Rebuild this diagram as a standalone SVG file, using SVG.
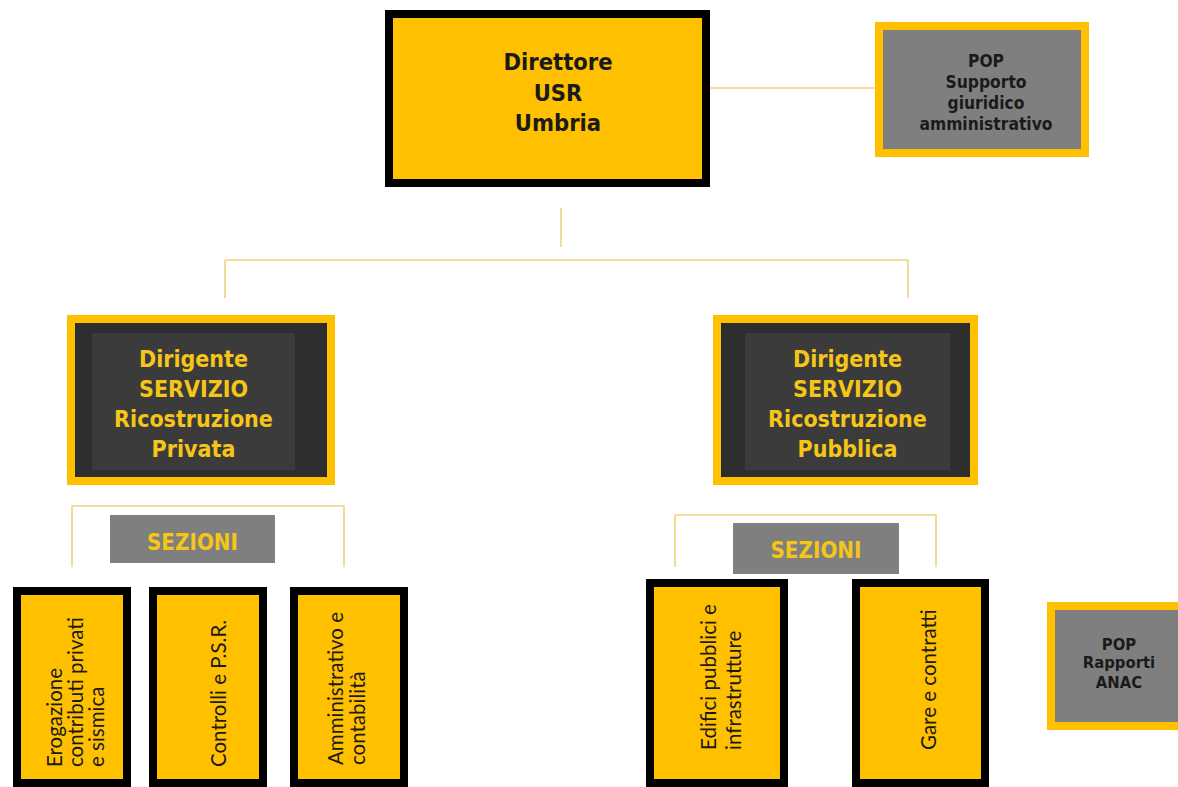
<svg xmlns="http://www.w3.org/2000/svg" width="1178" height="787" viewBox="0 0 1178 787">
  <style>
    .conn { stroke: #EFD37E; stroke-width: 1.6; fill: none; }
    .boxY { fill: #FFC000; stroke: #000000; stroke-width: 8; }
    .boxG { fill: #7F7F7F; stroke: #FFC000; stroke-width: 8; }
    .boxD { fill: #2E2E2E; stroke: #FFC000; stroke-width: 8; }
    .inD { fill: #3B3B3B; }
    .sez { fill: #7F7F7F; }
    .tH { font-family: "DejaVu Sans Condensed", "DejaVu Sans", sans-serif; font-stretch: condensed; font-weight: bold; text-anchor: middle; }
    .tDir { font-size: 23.5px; fill: #1A1A1A; }
    .tPop { font-size: 17.3px; fill: #1A1A1A; }
    .tPop2 { font-size: 16.5px; fill: #1A1A1A; }
    .tDg { font-size: 23px; fill: #F5C518; }
    .tSez { font-size: 22.2px; fill: #F5C518; }
    .tV { font-family: Lato, "Liberation Sans", sans-serif; font-size: 20.5px; fill: #1A1A1A; text-anchor: start; }
  </style>
  <rect width="1178" height="787" fill="#FFFFFF"/>

  <g id="connectors">
    <line class="conn" x1="710" y1="88" x2="876" y2="88"/>
    <line class="conn" x1="561" y1="208" x2="561" y2="247"/>
    <line class="conn" x1="225" y1="260" x2="908" y2="260"/>
    <line class="conn" x1="225" y1="260" x2="225" y2="298"/>
    <line class="conn" x1="908" y1="260" x2="908" y2="298"/>
    <polyline class="conn" points="72,567 72,506 344,506 344,567"/>
    <polyline class="conn" points="675,567 675,515 936,515 936,567"/>
  </g>

  <g id="direttore">
    <rect class="boxY" x="389" y="14" width="317" height="169"/>
    <text class="tH tDir" x="558" y="70">Direttore</text>
    <text class="tH tDir" x="558" y="101">USR</text>
    <text class="tH tDir" x="558" y="131">Umbria</text>
  </g>

  <g id="pop-supporto">
    <rect class="boxG" x="879" y="26" width="206" height="127"/>
    <text class="tH tPop" x="986" y="67">POP</text>
    <text class="tH tPop" x="986" y="88">Supporto</text>
    <text class="tH tPop" x="986" y="109">giuridico</text>
    <text class="tH tPop" x="986" y="130">amministrativo</text>
  </g>

  <g id="dirigente-privata">
    <rect class="boxD" x="71" y="319" width="260" height="162"/>
    <rect class="inD" x="92" y="333" width="203" height="137"/>
    <text class="tH tDg" x="193.5" y="367">Dirigente</text>
    <text class="tH tDg" x="193.5" y="397">SERVIZIO</text>
    <text class="tH tDg" x="193.5" y="427">Ricostruzione</text>
    <text class="tH tDg" x="193.5" y="457">Privata</text>
  </g>

  <g id="dirigente-pubblica">
    <rect class="boxD" x="717" y="319" width="257" height="162"/>
    <rect class="inD" x="745" y="333" width="205" height="137"/>
    <text class="tH tDg" x="847.5" y="367">Dirigente</text>
    <text class="tH tDg" x="847.5" y="397">SERVIZIO</text>
    <text class="tH tDg" x="847.5" y="427">Ricostruzione</text>
    <text class="tH tDg" x="847.5" y="457">Pubblica</text>
  </g>

  <g id="sezioni-privata">
    <rect class="sez" x="110" y="515" width="165" height="48"/>
    <text class="tH tSez" x="192.5" y="550">SEZIONI</text>
  </g>

  <g id="sezioni-pubblica">
    <rect class="sez" x="733" y="523" width="166" height="51"/>
    <text class="tH tSez" x="816" y="558">SEZIONI</text>
  </g>

  <g id="erogazione">
    <rect class="boxY" x="17" y="591" width="110" height="192"/>
    <text class="tV" transform="translate(62,767) rotate(-90)">Erogazione</text>
    <text class="tV" transform="translate(83,767) rotate(-90)">contributi privati</text>
    <text class="tV" transform="translate(104,767) rotate(-90)">e sismica</text>
  </g>

  <g id="controlli">
    <rect class="boxY" x="153" y="591" width="110" height="192"/>
    <text class="tV" transform="translate(226,767) rotate(-90)">Controlli e P.S.R.</text>
  </g>

  <g id="amministrativo">
    <rect class="boxY" x="294" y="591" width="110" height="192"/>
    <text class="tV" transform="translate(343,765) rotate(-90)">Amministrativo e</text>
    <text class="tV" transform="translate(365,765) rotate(-90)">contabilità</text>
  </g>

  <g id="edifici">
    <rect class="boxY" x="650" y="583" width="134" height="200"/>
    <text class="tV" transform="translate(716,750) rotate(-90)">Edifici pubblici e</text>
    <text class="tV" transform="translate(741,750) rotate(-90)">infrastrutture</text>
  </g>

  <g id="gare">
    <rect class="boxY" x="856" y="583" width="129" height="200"/>
    <text class="tV" transform="translate(936,750) rotate(-90)">Gare e contratti</text>
  </g>

  <g id="pop-anac">
    <rect class="boxG" x="1051" y="606" width="140" height="120"/>
    <text class="tH tPop2" x="1119" y="650">POP</text>
    <text class="tH tPop2" x="1119" y="668">Rapporti</text>
    <text class="tH tPop2" x="1119" y="688">ANAC</text>
  </g>
</svg>
